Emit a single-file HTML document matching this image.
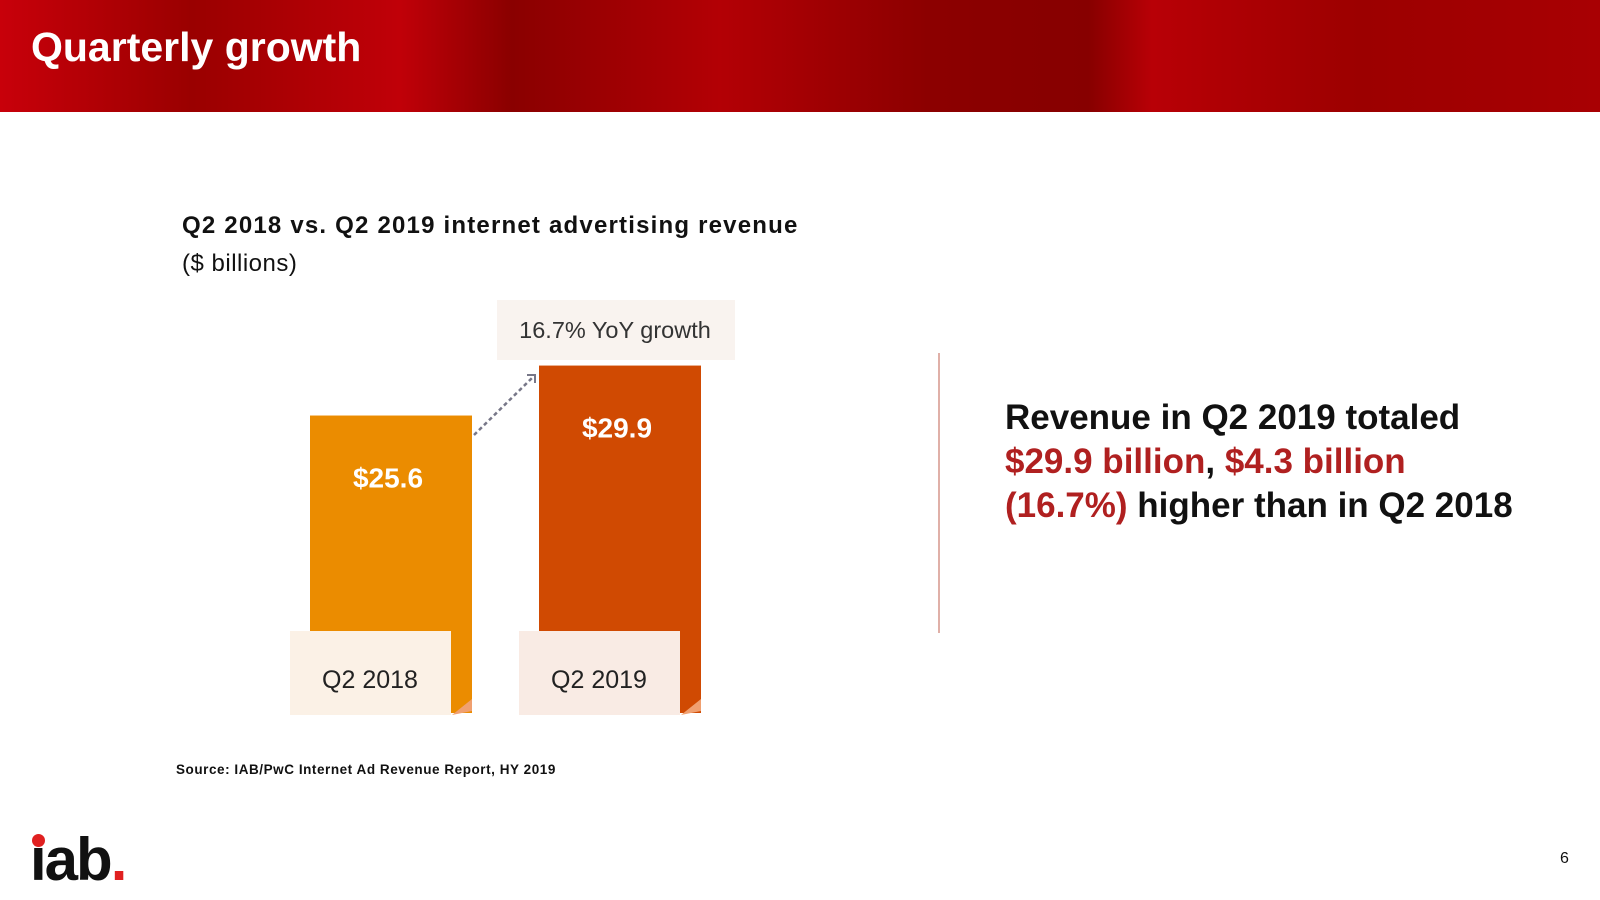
<!DOCTYPE html>
<html><head><meta charset="utf-8"><style>
body{margin:0;width:1600px;height:900px;overflow:hidden;background:#fff;position:relative;font-family:"Liberation Sans",sans-serif}
.abs{position:absolute}
</style></head><body>
<div class="abs" style="left:0;top:0;width:1600px;height:112px;background:linear-gradient(90deg,#c8000a 0%,#9a0000 12%,#c00008 25%,#8a0000 32%,#b30005 45%,#8c0000 58%,#870000 68%,#b80006 72%,#9c0000 85%,#a80003 100%)"></div>
<div class="abs" style="left:31px;top:24px;color:#fff;font-weight:bold;font-size:41px">Quarterly growth</div>
<div class="abs" style="left:182px;top:212px;font-weight:bold;font-size:24px;color:#111;letter-spacing:1.2px">Q2 2018 vs. Q2 2019 internet advertising revenue</div>
<div class="abs" style="left:182px;top:250px;font-size:24px;color:#111;letter-spacing:0.5px">($ billions)</div>
<svg class="abs" style="left:0;top:0" width="1600" height="900" id="chart"></svg>
<div class="abs" style="left:938px;top:353px;width:2px;height:280px;background:#e0b0a8"></div>
<div class="abs" style="left:1005px;top:396px;font-weight:bold;font-size:35px;line-height:44px;color:#111">Revenue in Q2 2019 totaled<br><span style="color:#b02020">$29.9 billion</span>, <span style="color:#b02020">$4.3 billion</span><br><span style="color:#b02020">(16.7%)</span> higher than in Q2 2018</div>
<div class="abs" style="left:176px;top:762px;font-weight:bold;font-size:13.5px;color:#111;letter-spacing:0.55px">Source: IAB/PwC Internet Ad Revenue Report, HY 2019</div>
<div class="abs" style="left:30px;top:832px;font-weight:bold;font-size:60px;line-height:56px;color:#111;letter-spacing:-2px">iab<span style="color:#e02020">.</span></div>
<div class="abs" style="left:32px;top:834px;width:13px;height:13px;border-radius:50%;background:#e02020"></div>
<div class="abs" style="left:1560px;top:850px;font-size:16px;color:#111">6</div>
<script>
const categories=["Q2 2018","Q2 2019"];
const values=[25.6,29.9];
const valueLabels=["$25.6","$29.9"];
const growthLabel="16.7% YoY growth";
const svg=document.getElementById('chart');
const NS="http://www.w3.org/2000/svg";
const base=713, scale=11.62;
const y=v=>base-v*scale;
const barX=[310,539], barW=162;
const colors=["#eb8c00","#d04a02"];
const boxFill=["#fbf1e6","#f9ebe4"];
function mk(t,a){const e=document.createElementNS(NS,t);for(const k in a)e.setAttribute(k,a[k]);svg.appendChild(e);return e;}
categories.forEach((c,i)=>{
  const r=mk('rect',{x:barX[i],y:y(values[i]),width:barW,height:base-y(values[i]),fill:colors[i]});
  
  
  const fold=mk('polygon',{points:`${barX[i]+barW-20},${base+2} ${barX[i]+barW},${base-14} ${barX[i]+barW},${base-2}`,fill:'#f0a070'});
  
  
  const b=mk('rect',{x:barX[i]-20,y:base-82,width:161,height:84,fill:boxFill[i]});
  
  
  const t=mk('text',{x:barX[i]+60,y:base-25,'text-anchor':'middle','font-size':25,fill:'#222','font-family':'Liberation Sans, sans-serif'});
  t.textContent=c;
  
  
  const v=mk('text',{x:barX[i]+78,y:y(values[i])+72,'text-anchor':'middle','font-size':28,'font-weight':'bold',fill:'#fff','font-family':'Liberation Sans, sans-serif'});
  v.textContent=valueLabels[i];
  
  
});
const gb=mk('rect',{x:497,y:300,width:238,height:60,fill:'#f9f3ef'});


const gt=mk('text',{x:615,y:338,'text-anchor':'middle','font-size':23.5,fill:'#333','font-family':'Liberation Sans, sans-serif'});
gt.textContent=growthLabel;


const ln=mk('line',{x1:474,y1:435,x2:533,y2:377,stroke:'#778',"stroke-width":2.5,"stroke-dasharray":"4 3"});


const ah=mk('polyline',{points:'527,375 535,375 535,383',fill:'none',stroke:'#778',"stroke-width":2});


</script>
</body></html>
